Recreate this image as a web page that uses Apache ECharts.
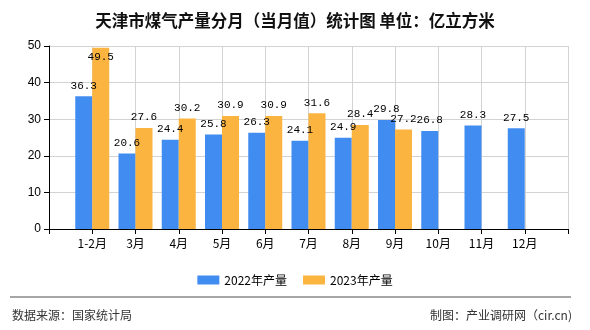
<!DOCTYPE html>
<html><head><meta charset="utf-8">
<script src="https://cdn.jsdelivr.net/npm/echarts@6/dist/echarts.min.js"></script>
<style>html,body{margin:0;padding:0;background:#fff}#c{width:590px;height:330px}</style>
</head><body><div id="c"></div>
<script>
var categories = ['', '1-2月', '3月', '4月', '5月', '6月', '7月', '8月', '9月', '10月', '11月', '12月', ''];
var values2022 = [null, 36.3, 20.6, 24.4, 25.8, 26.3, 24.1, 24.9, 29.8, 26.8, 28.3, 27.5, null];
var values2023 = [null, 49.5, 27.6, 30.2, 30.9, 30.9, 31.6, 28.4, 27.2, null, null, null, null];
var seriesNames = ['2022年产量', '2023年产量'];
var yTicks = {min: 0, max: 50, interval: 10};
var titleText = '天津市煤气产量分月（当月值）统计图 单位：亿立方米';
var sourceText = '数据来源：国家统计局';
var makerText = '制图：产业调研网（cir.cn)';

var FONT = '"Noto Sans CJK SC", "Liberation Sans", sans-serif';
var LABELFONT = '"Liberation Mono", "DejaVu Sans Mono", monospace';

function toData(arr) {
  return arr.map(function (v) {
    if (v === null) return '-';
    if (v > yTicks.max - 5) {
      return {value: v, label: {position: 'insideTop', distance: 4}};
    }
    return v;
  });
}

var chart = echarts.init(document.getElementById('c'), null, {renderer: 'canvas'});
chart.setOption({
  animation: false,
  textStyle: {fontFamily: FONT},
  color: ['#418CF0', '#FCB441'],
  title: {
    text: titleText, left: 'center', top: 7,
    textStyle: {fontSize: 16.5, fontWeight: 'bold', color: '#111', fontFamily: FONT}
  },
  legend: {
    data: seriesNames, top: 269, left: 'center',
    itemWidth: 22, itemHeight: 9, itemGap: 16,
    icon: 'rect',
    textStyle: {fontSize: 12, color: '#000', fontFamily: FONT}
  },
  grid: {left: 49, right: 22, top: 46, bottom: 101, containLabel: false},
  xAxis: {
    type: 'category', data: categories, boundaryGap: false,
    axisLine: {show: true, lineStyle: {color: '#000', width: 1}},
    axisTick: {show: true, length: 5, lineStyle: {color: '#000'}},
    axisLabel: {fontSize: 12, color: '#000', margin: 8, interval: 0, fontFamily: FONT},
    splitLine: {show: true, lineStyle: {color: '#d3d3d3', width: 1}}
  },
  yAxis: {
    type: 'value', min: yTicks.min, max: yTicks.max, interval: yTicks.interval,
    axisLine: {show: true, lineStyle: {color: '#000', width: 1}},
    axisTick: {show: true, length: 5, lineStyle: {color: '#000'}},
    axisLabel: {fontSize: 12, color: '#000', margin: 8, fontFamily: '"Liberation Sans", sans-serif'},
    splitLine: {show: true, lineStyle: {color: '#d3d3d3', width: 1}}
  },
  series: [
    {
      name: seriesNames[0], type: 'bar', data: toData(values2022),
      barWidth: 17, barGap: '0%',
      label: {show: true, position: 'top', distance: 5, color: '#000', fontSize: 11, fontFamily: LABELFONT}
    },
    {
      name: seriesNames[1], type: 'bar', data: toData(values2023),
      barWidth: 17, barGap: '0%',
      label: {show: true, position: 'top', distance: 5, color: '#000', fontSize: 11, fontFamily: LABELFONT}
    }
  ],
  graphic: [
    {type: 'line', shape: {x1: 10, y1: 297, x2: 571, y2: 297}, style: {stroke: '#888', lineWidth: 1.5}},
    {type: 'text', left: 12, top: 309, style: {text: sourceText, fontSize: 12, fill: '#333', fontFamily: FONT}},
    {type: 'text', right: 18, top: 309, style: {text: makerText, fontSize: 12, fill: '#333', fontFamily: FONT}}
  ]
});
</script>
</body></html>
